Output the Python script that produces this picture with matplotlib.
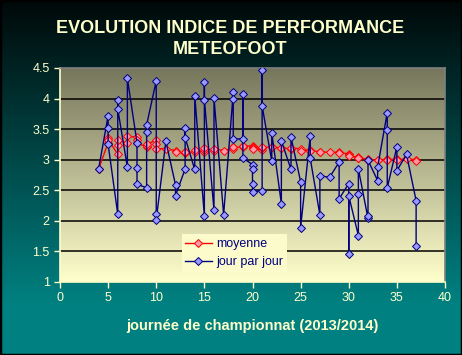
import numpy as np
import matplotlib
matplotlib.use('Agg')
import matplotlib.pyplot as plt
from matplotlib.ticker import FuncFormatter

plt.rcParams['font.family'] = ['Liberation Sans', 'DejaVu Sans']

# match day of each result (several results per day)
jour = [4, 5, 5, 5, 6, 6, 6, 7, 7, 8, 8, 8, 9, 9, 9, 10, 10, 10, 11, 12, 12,
        13, 13, 13, 14, 14, 15, 15, 15, 16, 16, 17, 18, 18, 18, 19, 19, 19,
        20, 20, 20, 20, 21, 21, 21, 22, 22, 23, 23, 24, 24, 25, 25, 26, 26,
        27, 27, 28, 29, 29, 30, 30, 30, 31, 31, 31, 32, 32, 32, 33, 33,
        34, 34, 34, 35, 35, 36, 37, 37]

# "jour par jour" values
jour_par_jour = [2.84, 3.72, 3.52, 3.25, 2.11, 3.98, 3.83, 2.88, 4.33, 3.28, 2.87, 2.60,
                 2.54, 3.46, 3.57, 4.29, 2.11, 2.02, 3.30, 2.59, 2.41,
                 2.85, 3.52, 3.36, 2.84, 4.05, 2.08, 4.27, 3.98, 2.17, 4.01, 2.10,
                 4.10, 3.99, 3.34, 3.34, 4.08, 3.03,
                 2.92, 2.84, 2.60, 2.48, 2.49, 4.47, 3.88, 2.98, 3.44, 2.28, 3.31,
                 2.84, 3.37, 2.64, 1.89, 3.39, 3.02, 2.10, 2.74, 2.71, 2.96, 2.36,
                 2.61, 1.46, 2.41, 1.76, 2.44, 2.85, 2.04, 2.08, 2.99, 2.66, 2.88,
                 3.77, 3.49, 2.54, 3.21, 2.82, 3.09, 2.33, 1.59]

# "moyenne" values
moyenne = [2.84, 3.28, 3.36, 3.33, 3.09, 3.24, 3.32, 3.27, 3.38, 3.37, 3.33, 3.27,
           3.21, 3.23, 3.25, 3.32, 3.25, 3.18, 3.18, 3.15, 3.12,
           3.11, 3.12, 3.13, 3.12, 3.16, 3.12, 3.16, 3.19, 3.15, 3.18, 3.15,
           3.18, 3.20, 3.20, 3.21, 3.23, 3.23,
           3.22, 3.21, 3.19, 3.18, 3.16, 3.19, 3.21, 3.20, 3.21, 3.19, 3.19,
           3.18, 3.19, 3.18, 3.15, 3.16, 3.15, 3.13, 3.13, 3.12, 3.12, 3.11,
           3.10, 3.07, 3.06, 3.04, 3.03, 3.03, 3.01, 3.00, 3.00, 2.99, 2.99,
           3.00, 3.01, 3.00, 3.01, 3.00, 3.01, 3.00, 2.98]

fig = plt.figure(figsize=(4.62, 3.55), dpi=100)

# figure background: teal fading to almost black
bg = fig.add_axes([0, 0, 1, 1], zorder=-10)
yy = np.linspace(0, 1, 256)
g = np.interp(yy, [0, 0.15, 1], [128, 128, 8]) / 255.0
grad = np.zeros((256, 1, 3))
grad[:, 0, 1] = g
grad[:, 0, 2] = g
bg.imshow(grad, aspect='auto', extent=[0, 1, 0, 1])
bg.set_xlim(0, 1)
bg.set_ylim(1, 0)
bg.axis('off')
bg.add_patch(plt.Rectangle((0, 0), 1, 1, fill=False, edgecolor='black',
                           linewidth=2.5, transform=bg.transAxes))

ax = fig.add_axes([60 / 462, 73 / 355, 385 / 462, 214 / 355])

# plot area gradient
top = np.array([118, 118, 92]) / 255.0
bot = np.array([255, 255, 204]) / 255.0
t = np.linspace(0, 1, 256)[:, None]
pa = (top * (1 - t) + bot * t)[:, None, :]
ax.imshow(pa, aspect='auto', extent=[0, 40, 1, 4.5], zorder=0)

for v in [1.5, 2, 2.5, 3, 3.5, 4]:
    ax.axhline(v, color='black', linewidth=1.1, zorder=1)

ax.plot(jour, moyenne, color='#ff0000', linewidth=1.0, marker='D',
        markersize=4.5, markerfacecolor='#ff99aa', markeredgecolor='#ff0000',
        markeredgewidth=0.7, label='moyenne', zorder=3)
ax.plot(jour, jour_par_jour, color='#000080', linewidth=1.0, marker='D',
        markersize=4.5, markerfacecolor='#9999ff', markeredgecolor='#000080',
        markeredgewidth=0.7, label='jour par jour', zorder=4)

ax.set_xlim(0, 40)
ax.set_ylim(1, 4.5)
ax.set_xticks(range(0, 41, 5))
ax.set_yticks(np.arange(1, 4.51, 0.5))
ax.yaxis.set_major_formatter(FuncFormatter(lambda v, p: '%g' % v))

light = '#ffffcc'
ax.tick_params(colors=light, labelcolor=light, labelsize=9, direction='out',
               length=4, width=1)
ax.spines['left'].set_color(light)
ax.spines['bottom'].set_color(light)
ax.spines['top'].set_color('#808080')
ax.spines['right'].set_color('#808080')
for s in ax.spines.values():
    s.set_linewidth(1.2)

leg = ax.legend(loc='center', bbox_to_anchor=(0.453, 0.135), numpoints=1,
                fontsize=9, facecolor='#fbfbcb', edgecolor='none', framealpha=1,
                handlelength=2.1, handletextpad=0.4, labelspacing=0.5,
                borderpad=0.3, fancybox=False)
for txt in leg.get_texts():
    txt.set_color('#000080')
leg.set_zorder(5)

fig.text(0.498, 1 - 39 / 355, 'EVOLUTION INDICE DE PERFORMANCE\nMETEOFOOT',
         ha='center', va='center', fontsize=13, fontweight='bold', color=light,
         linespacing=1.25)
fig.text(252.5 / 462, 1 - 326 / 355, 'journée de championnat (2013/2014)',
         ha='center', va='center', fontsize=10.5, fontweight='bold', color=light)

fig.savefig('out.png', dpi=100)
